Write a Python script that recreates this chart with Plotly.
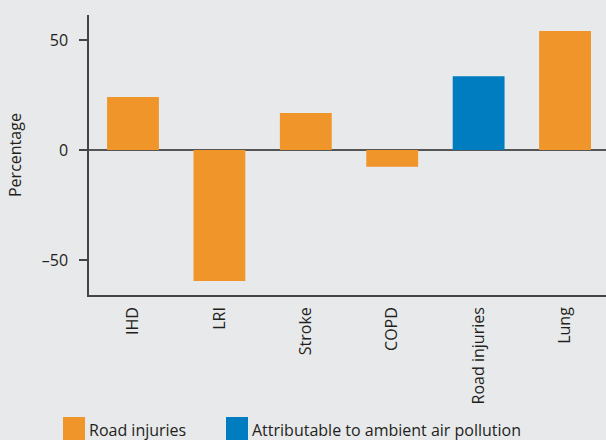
import plotly.graph_objects as go

categories = ["IHD", "LRI", "Stroke", "COPD", "Road injuries", "Lung"]
road_injuries_values = [24.1, -59.5, 16.8, -7.6, None, 54.1]
air_pollution_values = [None, None, None, None, 33.6, None]
y_tick_vals = [-50, 0, 50]
y_tick_text = ["\u201350", "0", "50"]
legend_names = ["Road injuries", "Attributable to ambient air pollution"]

ORANGE = "#f0952a"
BLUE = "#007dc0"
BG = "#e8e9eb"
TXT = "#231f20"
FONT = "Open Sans"
FS = 16

W, H = 606, 440
L, R, T, B = 89, 0, 15, 145
pw = W - L - R
ph = H - T - B


def px_x(x):
    return (x - L) / pw


def px_y(y):
    return (H - B - y) / ph


fig = go.Figure()
fig.add_trace(go.Bar(x=categories, y=road_injuries_values, name=legend_names[0],
                     marker=dict(color=ORANGE, line=dict(width=0))))
fig.add_trace(go.Bar(x=categories, y=air_pollution_values, name=legend_names[1],
                     marker=dict(color=BLUE, line=dict(width=0))))

fig.update_layout(
    width=W, height=H,
    margin=dict(l=L, r=R, t=T, b=B, pad=0),
    paper_bgcolor=BG, plot_bgcolor=BG,
    barmode="overlay", bargap=0.4,
    showlegend=False,
    font=dict(family=FONT, size=FS, color=TXT),
    xaxis=dict(
        range=[-0.509, 5.474], showgrid=False, zeroline=False,
        showline=True, linecolor="#444444", linewidth=1.5,
        ticks="", tickangle=-90, tickfont=dict(size=FS, color=TXT),
        ticklabelstandoff=4,
    ),
    yaxis=dict(
        range=[-65.9, 61.4], showgrid=False,
        zeroline=True, zerolinecolor="#555555", zerolinewidth=2,
        showline=True, linecolor="#444444", linewidth=1.5,
        ticks="outside", ticklen=8, tickwidth=1.5, tickcolor="#444444",
        tickvals=y_tick_vals, ticktext=y_tick_text,
        tickfont=dict(size=FS, color=TXT), ticklabelstandoff=8,
    ),
)

# y-axis title
fig.add_annotation(text="Percentage", xref="paper", yref="paper",
                   x=px_x(15), y=0.5, textangle=-90, showarrow=False,
                   xanchor="center", yanchor="middle",
                   font=dict(size=FS, color=TXT))

# custom legend (large swatches)
legend_items = [(63, ORANGE, legend_names[0]), (226, BLUE, legend_names[1])]
for x0, col, name in legend_items:
    fig.add_shape(type="rect", xref="paper", yref="paper",
                  x0=px_x(x0), x1=px_x(x0 + 22), y0=px_y(417), y1=px_y(440),
                  fillcolor=col, line=dict(width=0), layer="above")
    fig.add_annotation(text=name, xref="paper", yref="paper",
                       x=px_x(x0 + 24), y=px_y(430), showarrow=False,
                       xanchor="left", yanchor="middle",
                       font=dict(size=FS, color=TXT))

fig.write_html(
    "out.html",
    config={"displayModeBar": False},
    post_script="document.body.style.margin='0';document.body.style.padding='0';"
                "document.body.style.background='" + BG + "';document.body.style.overflow='hidden';",
)
